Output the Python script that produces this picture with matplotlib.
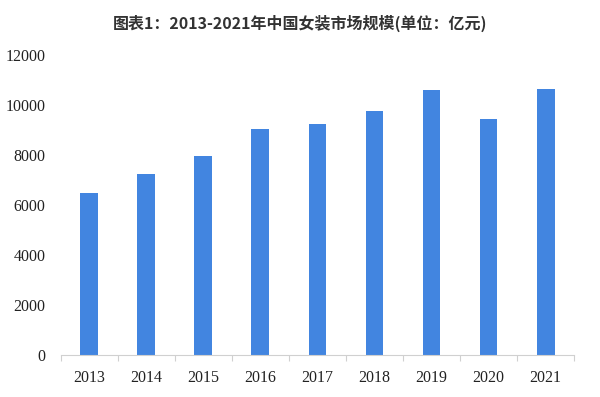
import matplotlib.pyplot as plt
import numpy as np

# 数据：2013-2021 年中国女装市场规模（亿元）
years = ["2013", "2014", "2015", "2016", "2017", "2018", "2019", "2020", "2021"]
market_size = [6470, 7250, 7980, 9050, 9250, 9760, 10600, 9440, 10640]
y_ticks = [0, 2000, 4000, 6000, 8000, 10000, 12000]

plt.rcParams['font.family'] = ['Liberation Serif', 'Noto Sans CJK SC', 'DejaVu Sans']

fig = plt.figure(figsize=(6.0, 3.97), dpi=100)
ax = fig.add_axes([0.101, 0.106, 0.856, 0.755])

x = np.arange(len(years))
ax.bar(x, market_size, width=0.31, color="#4285E0", zorder=2)

ax.set_xlim(-0.5, len(years) - 0.5)
ax.set_ylim(0, 12000)
ax.set_yticks(y_ticks)
ax.set_yticklabels([str(v) for v in y_ticks], fontsize=11.5, color="#222222")
ax.set_xticks(x)
ax.set_xticklabels(years, fontsize=11.5, color="#222222")

# x 轴分隔刻度放在类别之间
ax.set_xticks(np.arange(-0.5, len(years), 1.0), minor=True)
ax.tick_params(axis="x", which="major", length=0, pad=11)
ax.tick_params(axis="x", which="minor", length=4, color="#d0d0d0", width=0.8)
ax.tick_params(axis="y", length=0, pad=11)

for side in ["top", "right", "left"]:
    ax.spines[side].set_visible(False)
ax.spines["bottom"].set_color("#d0d0d0")
ax.spines["bottom"].set_linewidth(0.8)

fig.text(0.5, 0.942, "图表1：2013-2021年中国女装市场规模(单位：亿元)",
         ha="center", va="center", fontsize=11.5, fontweight="bold",
         family=["Noto Sans CJK SC", "DejaVu Sans"], color="#333333")

fig.savefig("out.png", dpi=100)
